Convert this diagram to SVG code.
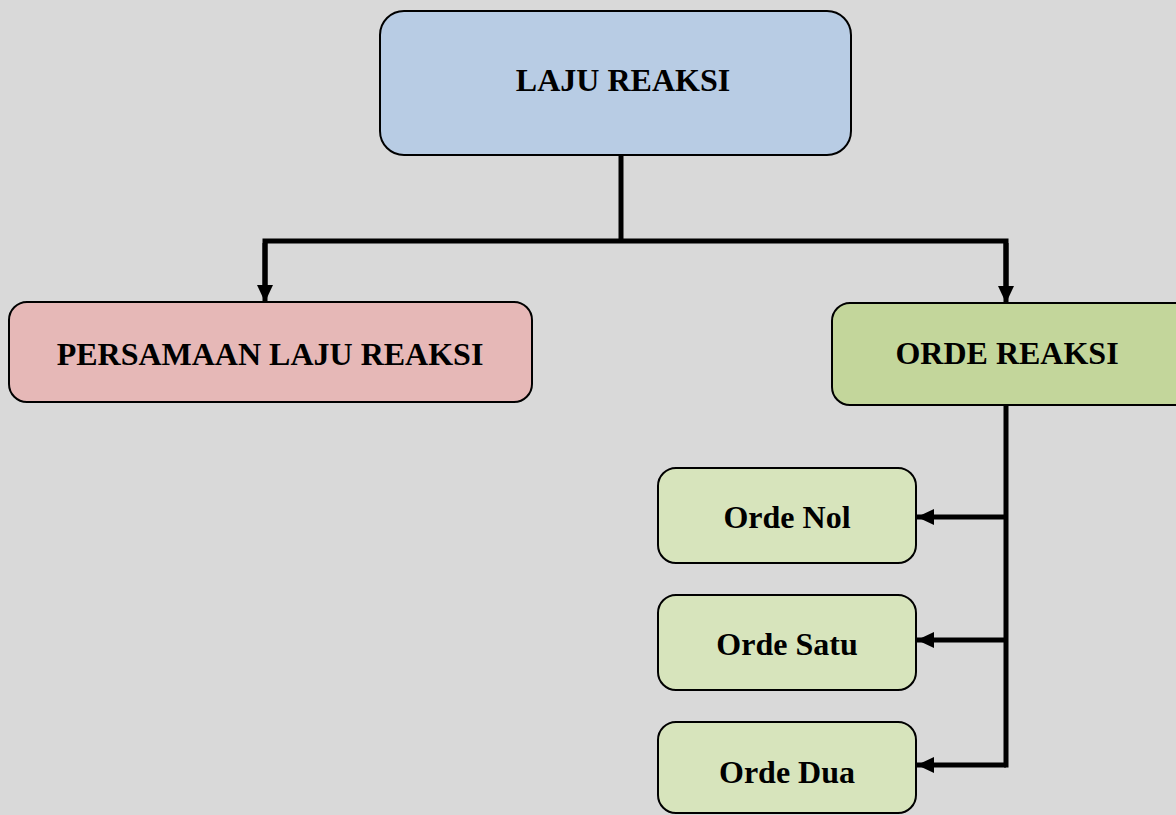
<svg xmlns="http://www.w3.org/2000/svg" width="1176" height="815" viewBox="0 0 1176 815">
<style>
.box{stroke:#000;stroke-width:2}
.t{font-family:"Liberation Serif","Times New Roman",serif;font-weight:bold;font-size:32px;fill:#000;text-anchor:middle}
.c{stroke:#000;stroke-width:5;fill:none}
</style>
<defs>
<marker id="ah" viewBox="0 0 17 16" refX="17" refY="8" markerWidth="17" markerHeight="16" orient="auto" markerUnits="userSpaceOnUse">
<path d="M0,0 L17,8 L0,16 Z" fill="#000"/>
</marker>
</defs>
<rect width="1176" height="815" fill="#d9d9d9"/>
<g id="connectors">
<line class="c" x1="621" y1="155" x2="621" y2="241"/>
<polyline class="c" points="265,290 265,241 1006,241 1006,290"/>
<line class="c" x1="265" y1="243" x2="265" y2="302" marker-end="url(#ah)"/>
<line class="c" x1="1006" y1="243" x2="1006" y2="303" marker-end="url(#ah)"/>
<polyline class="c" points="1006,405 1006,765 1004,765"/>
<line class="c" x1="1006" y1="517" x2="917" y2="517" marker-end="url(#ah)"/>
<line class="c" x1="1006" y1="640" x2="917" y2="640" marker-end="url(#ah)"/>
<line class="c" x1="1006" y1="765" x2="917" y2="765" marker-end="url(#ah)"/>
</g>
<g id="laju-reaksi">
<rect class="box" x="380" y="11" width="471" height="144" rx="24" fill="#b8cce4"/>
<text class="t" x="623" y="91">LAJU REAKSI</text>
</g>
<g id="persamaan">
<rect class="box" x="9" y="302" width="523" height="100" rx="18" fill="#e6b8b7"/>
<text class="t" x="270" y="365">PERSAMAAN LAJU REAKSI</text>
</g>
<g id="orde-reaksi">
<rect class="box" x="832" y="303" width="360" height="102" rx="18" fill="#c3d69b"/>
<text class="t" x="1007" y="364">ORDE REAKSI</text>
</g>
<g id="orde-nol">
<rect class="box" x="658" y="468" width="258" height="95" rx="18" fill="#d7e4bc"/>
<text class="t" x="787" y="528">Orde Nol</text>
</g>
<g id="orde-satu">
<rect class="box" x="658" y="595" width="258" height="95" rx="18" fill="#d7e4bc"/>
<text class="t" x="787" y="655">Orde Satu</text>
</g>
<g id="orde-dua">
<rect class="box" x="658" y="722" width="258" height="91" rx="18" fill="#d7e4bc"/>
<text class="t" x="787" y="783">Orde Dua</text>
</g>
</svg>
